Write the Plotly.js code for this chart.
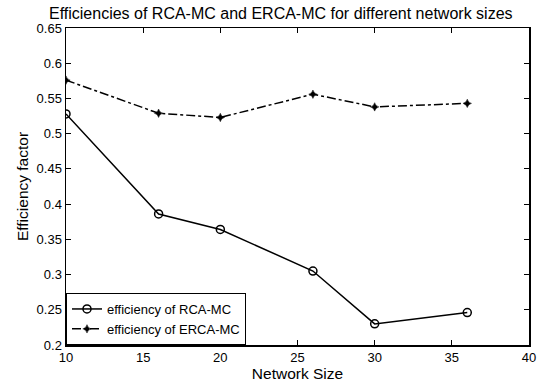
<!DOCTYPE html>
<html>
<head>
<meta charset="utf-8">
<script src="https://cdn.plot.ly/plotly-3.0.1.min.js"></script>
<style>html,body{margin:0;padding:0;background:#fff;}#chart{width:542px;height:385px;}</style>
</head>
<body>
<div id="chart"></div>
<script>
const networkSize = [10, 16, 20, 26, 30, 36];
const rcaEfficiency = [0.528, 0.386, 0.364, 0.305, 0.230, 0.246];
const ercaEfficiency = [0.576, 0.529, 0.523, 0.556, 0.538, 0.543];
const xTicks = [10, 15, 20, 25, 30, 35, 40];
const yTicks = [0.2, 0.25, 0.3, 0.35, 0.4, 0.45, 0.5, 0.55, 0.6, 0.65];
const yTickText = ['0.2', '0.25', '0.3', '0.35', '0.4', '0.45', '0.5', '0.55', '0.6', '0.65'];

const traces = [
  {
    x: networkSize, y: rcaEfficiency, name: 'efficiency of RCA-MC',
    mode: 'lines+markers', type: 'scatter',
    line: {color: '#000', width: 1.5},
    marker: {symbol: 'circle-open', size: 8, color: '#000', line: {width: 1.5, color: '#000'}}
  },
  {
    x: networkSize, y: ercaEfficiency, name: 'efficiency of ERCA-MC',
    mode: 'lines+markers', type: 'scatter',
    line: {color: '#000', width: 1.5, dash: 'dashdot'},
    marker: {symbol: 'star-diamond', size: 6, color: '#000', line: {width: 0.5, color: '#000'}}
  }
];

const axisCommon = {
  showgrid: false, zeroline: false, showline: true, mirror: 'ticks',
  linecolor: '#000', linewidth: 1.5, ticks: 'inside', ticklen: 5, tickcolor: '#000', tickwidth: 1,
  tickfont: {family: 'Liberation Sans, Arial, sans-serif', size: 13, color: '#000'}
};

const layout = {
  width: 542, height: 385,
  margin: {l: 66, r: 13, t: 28, b: 40, pad: 0},
  paper_bgcolor: '#fff', plot_bgcolor: '#fff',
  font: {family: 'Liberation Sans, Arial, sans-serif', color: '#000'},
  title: {
    text: 'Efficiencies of RCA-MC and ERCA-MC for different network sizes',
    font: {size: 16, color: '#000'}, x: 0.518, xanchor: 'center', y: 0.965, yanchor: 'middle'
  },
  xaxis: Object.assign({}, axisCommon, {
    range: [10, 40], tickvals: xTicks, ticktext: xTicks.map(String),
    title: {text: 'Network Size', font: {size: 15.5, color: '#000'}, standoff: 3}
  }),
  yaxis: Object.assign({}, axisCommon, {
    range: [0.2, 0.65], tickvals: yTicks, ticktext: yTickText,
    title: {text: 'Efficiency factor', font: {size: 15.5, color: '#000'}, standoff: 4}
  }),
  showlegend: true,
  legend: {
    x: 0, y: 0, xanchor: 'left', yanchor: 'bottom',
    bgcolor: '#fff', bordercolor: '#000', borderwidth: 1,
    font: {size: 13, color: '#000'}, tracegroupgap: 0, itemwidth: 30
  }
};

Plotly.newPlot('chart', traces, layout, {displayModeBar: false, staticPlot: true});
</script>
</body>
</html>
